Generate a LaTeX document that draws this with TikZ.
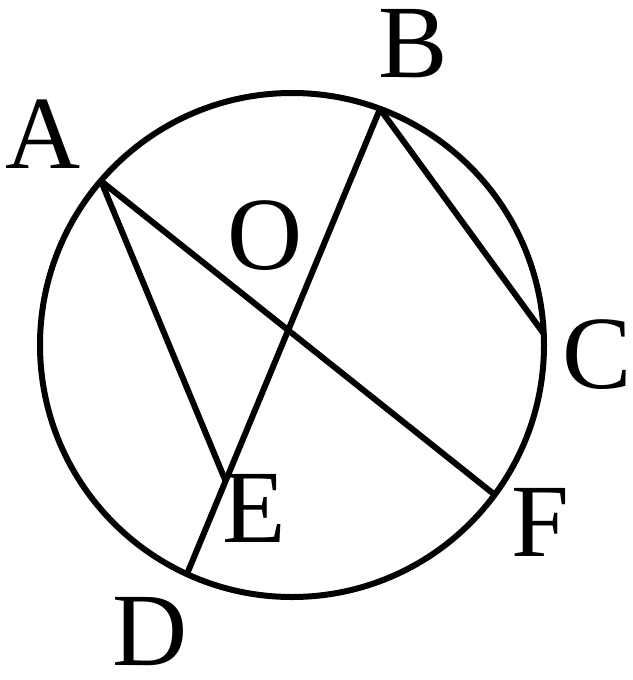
\documentclass[tikz,border=0pt]{standalone}
\usepackage{fontspec}
\setmainfont{Liberation Serif}
\usetikzlibrary{calc}
\begin{document}
\begin{tikzpicture}[x=1pt,y=-1pt,
  geo/.style={line width=6pt,black},
  lbl/.style={inner sep=0pt,font=\fontsize{104}{104}\selectfont}]
\useasboundingbox (0,0) rectangle (632,680);
\coordinate (O) at (292,345);
\coordinate (A) at (101,181);
\coordinate (B) at (380,109);
\coordinate (C) at (544,334);
\coordinate (D) at (187,574);
\coordinate (F) at (495,495);
\coordinate (E) at ($(B)!0.8!(D)$);
\draw[geo] (O) circle[radius=252];
\draw[geo] (A) -- (F);
\draw[geo] (B) -- (D);
\draw[geo] (A) -- (E);
\draw[geo] (B) -- (C);
\node[lbl] (lA) at (43,134) {A};
\node[lbl] (lB) at (413,44) {B};
\node[lbl] (lC) at (597,355) {C};
\node[lbl] (lD) at (150,632) {D};
\node[lbl] (lE) at (254,508) {E};
\node[lbl] (lF) at (540,522) {F};
\node[lbl] (lO) at (265,236) {O};
\end{tikzpicture}
\end{document}
